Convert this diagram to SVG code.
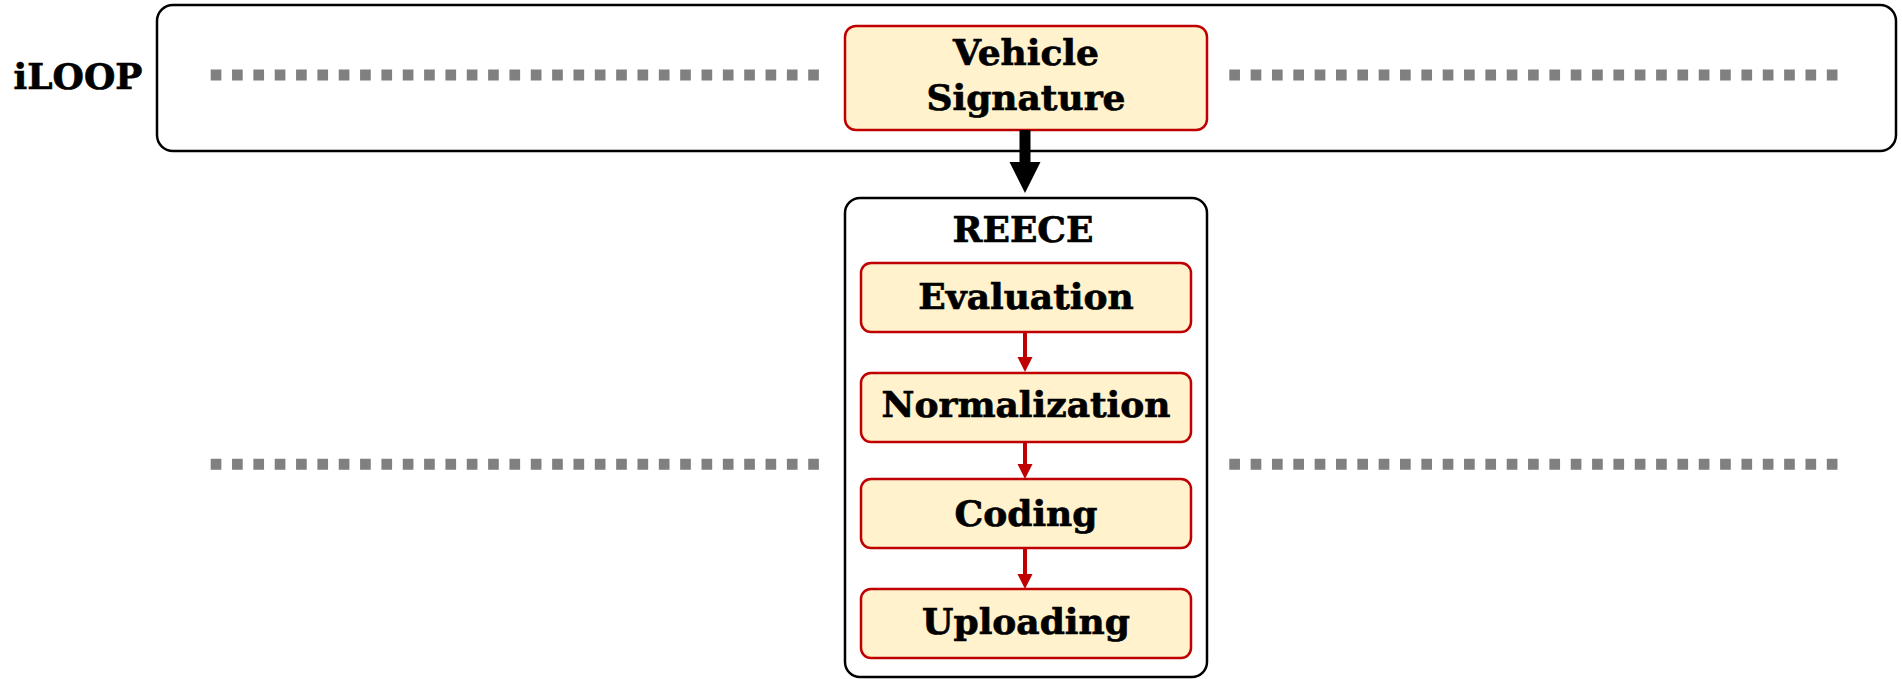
<svg xmlns="http://www.w3.org/2000/svg" width="1902" height="679" viewBox="0 0 1902 679">
  <defs>
    <style>
      .label { font-family: "DejaVu Serif", "Liberation Serif", serif; font-weight: bold; font-size: 36px; fill: #000; stroke: #000; stroke-width: 0.7; text-anchor: middle; }
      .frame { fill: #fff; stroke: #000; stroke-width: 2.5; }
      .step { fill: #FFF2CC; stroke: #C00000; stroke-width: 2.5; }
      .dots { fill: none; stroke: #808080; stroke-width: 11; stroke-dasharray: 10.67 10.67; }
      .flow { stroke: #C00000; stroke-width: 4; fill: none; }
    </style>
    <marker id="redHead" markerUnits="userSpaceOnUse" markerWidth="16" markerHeight="16" refX="1" refY="7.5" orient="auto" overflow="visible">
      <path d="M0,0 L15,7.5 L0,15 Z" fill="#C00000"/>
    </marker>
  </defs>

  <!-- iLOOP layer -->
  <g id="iloop">
    <rect class="frame" x="157" y="5" width="1739" height="146" rx="16" ry="16"/>
    <text class="label" x="78" y="89">iLOOP</text>
  </g>

  <!-- dotted separators -->
  <g id="separators">
    <line class="dots" x1="210.7" y1="75" x2="819" y2="75"/>
    <line class="dots" x1="1229.3" y1="75" x2="1838" y2="75"/>
    <line class="dots" x1="210.7" y1="464.3" x2="819" y2="464.3"/>
    <line class="dots" x1="1229.3" y1="464.3" x2="1838" y2="464.3"/>
  </g>

  <g id="vehicle-signature">
    <rect class="step" x="845" y="26" width="362" height="104" rx="11" ry="11"/>
    <text class="label" x="1026" y="65">Vehicle</text>
    <text class="label" x="1026" y="110">Signature</text>
  </g>

  <!-- REECE container -->
  <g id="reece">
    <rect class="frame" x="845" y="198" width="362" height="479" rx="15" ry="15"/>
    <text class="label" x="1023" y="242">REECE</text>
  </g>

  <g id="evaluation">
    <rect class="step" x="861" y="263" width="330" height="69" rx="10" ry="10"/>
    <text class="label" x="1026" y="309">Evaluation</text>
  </g>
  <g id="normalization">
    <rect class="step" x="861" y="373" width="330" height="69" rx="10" ry="10"/>
    <text class="label" x="1026" y="417">Normalization</text>
  </g>
  <g id="coding">
    <rect class="step" x="861" y="479" width="330" height="69" rx="10" ry="10"/>
    <text class="label" x="1026" y="526">Coding</text>
  </g>
  <g id="uploading">
    <rect class="step" x="861" y="589" width="330" height="69" rx="10" ry="10"/>
    <text class="label" x="1026" y="634">Uploading</text>
  </g>

  <!-- connectors -->
  <g id="connectors">
    <path d="M1019.5,130 L1030.5,130 L1030.5,162 L1040.5,162 L1025,193 L1009.5,162 L1019.5,162 Z" fill="#000"/>
    <line class="flow" x1="1025" y1="332" x2="1025" y2="358" marker-end="url(#redHead)"/>
    <line class="flow" x1="1025" y1="442" x2="1025" y2="465" marker-end="url(#redHead)"/>
    <line class="flow" x1="1025" y1="548" x2="1025" y2="575" marker-end="url(#redHead)"/>
  </g>
</svg>
